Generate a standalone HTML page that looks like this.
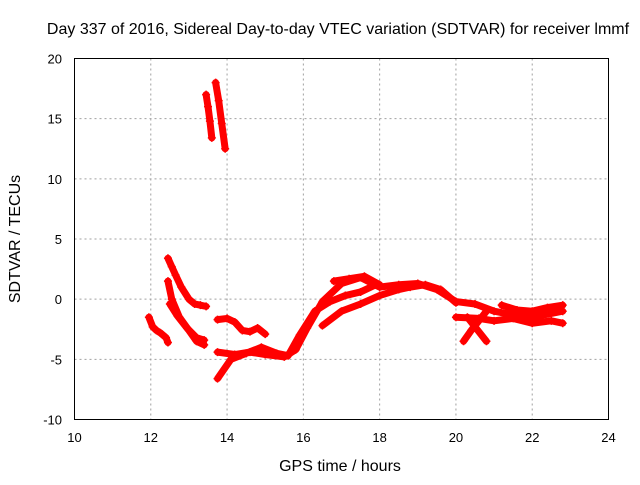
<!DOCTYPE html>
<html><head><meta charset="utf-8"><style>
body{margin:0;background:#fff}
svg text{font-family:"Liberation Sans",sans-serif;font-size:13px;fill:#000}
svg text.big{font-size:16px}
</style></head><body>
<svg id="chart" width="640" height="480" xmlns="http://www.w3.org/2000/svg">
<rect width="640" height="480" fill="#fff"/>
<g id="grid"></g>
<g id="series"></g>
<rect x="74.5" y="58.5" width="534" height="361" fill="none" stroke="#000" stroke-width="1"/>
<g id="ticks"></g>
<text class="big" x="338" y="34" text-anchor="middle">Day 337 of 2016, Sidereal Day-to-day VTEC variation (SDTVAR) for receiver lmmf</text>
<text class="big" x="340" y="471" text-anchor="middle">GPS time / hours</text>
<text class="big" x="20" y="239" text-anchor="middle" transform="rotate(-90 20 239)">SDTVAR / TECUs</text>
</svg>
<script>
const xTicks=[10,12,14,16,18,20,22,24];
const yTicks=[-10,-5,0,5,10,15,20];
const traceA_h=[13.45,13.5,13.55,13.6];
const traceA_v=[17,16,14.8,13.4];
const traceB_h=[13.7,13.78,13.86,13.95];
const traceB_v=[18,16.5,14.6,12.5];
const traceC_h=[12.45,12.55,12.65,12.8,13.0,13.15,13.3,13.45];
const traceC_v=[3.4,2.7,2,1,0,-0.4,-0.5,-0.6];
const traceD_h=[12.45,12.55,12.75,13.0,13.2,13.4];
const traceD_v=[1.5,0,-1.5,-2.6,-3.5,-3.8];
const traceD2_h=[12.5,12.7,12.95,13.2,13.4];
const traceD2_v=[-0.4,-1.4,-2.4,-3.2,-3.4];
const traceE_h=[11.95,12.05,12.15,12.25,12.4,12.45];
const traceE_v=[-1.5,-2.3,-2.6,-2.8,-3.2,-3.6];
const traceF_h=[13.75,14.0,14.2,14.4,14.6,14.8,15.0];
const traceF_v=[-1.7,-1.6,-1.9,-2.6,-2.7,-2.4,-2.9];
const traceG_h=[13.75,14.1,14.5,14.9,15.3,15.6,15.9,16.3,16.7,17.1,17.5,17.9];
const traceG_v=[-6.6,-5,-4.5,-4,-4.5,-4.7,-3,-1,-0.2,0.3,0.6,1.2];
const traceH_h=[13.75,14.2,14.6,15.0,15.5,15.8,16.1,16.5,17.0,17.5,18.0,18.5,19.0,19.5,20.0,20.5,21.0,21.5,22.0,22.8];
const traceH_v=[-4.4,-4.6,-4.4,-4.6,-4.8,-4.2,-2.4,-0.2,1.3,1.8,1.0,1.2,1.3,0.8,-0.2,-0.4,-1.0,-1.3,-1.5,-1.0];
const traceI_h=[16.5,17.0,17.5,18.0,18.5,18.8,19.2,19.6,20.0];
const traceI_v=[-2.2,-1.0,-0.4,0.3,0.8,1.0,1.2,0.8,-0.3];
const traceJ_h=[16.8,17.2,17.6,18.0];
const traceJ_v=[1.5,1.7,1.9,1.2];
const traceK_h=[20.0,20.6,21.0,21.5,22.0,22.5,22.8];
const traceK_v=[-1.5,-1.6,-1.8,-1.6,-2.0,-1.8,-2.0];
const traceL_h=[20.2,20.4,20.6,20.8];
const traceL_v=[-3.5,-2.6,-1.8,-1.0];
const traceM_h=[20.3,20.55,20.8];
const traceM_v=[-1.5,-2.5,-3.5];
const traceN_h=[21.2,21.6,22.0,22.4,22.8];
const traceN_v=[-0.5,-0.9,-1.0,-0.7,-0.5];
const traces=[[traceA_h,traceA_v],[traceB_h,traceB_v],[traceC_h,traceC_v],[traceD_h,traceD_v],[traceD2_h,traceD2_v],[traceE_h,traceE_v],[traceF_h,traceF_v],[traceG_h,traceG_v],[traceH_h,traceH_v],[traceI_h,traceI_v],[traceJ_h,traceJ_v],[traceK_h,traceK_v],[traceL_h,traceL_v],[traceM_h,traceM_v],[traceN_h,traceN_v]];
const X0=74.5,X1=608.5,Y0=419.5,Y1=58.5;
function xs(h){return X0+(h-10)/(24-10)*(X1-X0);}
function ys(v){return Y0-(v+10)/(20+10)*(Y0-Y1);}
const NS="http://www.w3.org/2000/svg";
const grid=document.getElementById('grid'),ticks=document.getElementById('ticks'),ser=document.getElementById('series');
function mk(t,a,p){const e=document.createElementNS(NS,t);for(const k in a)e.setAttribute(k,a[k]);p.appendChild(e);return e;}
xTicks.forEach(t=>{const x=xs(t);
 if(t>10&&t<24){const g=mk('line',{x1:x,x2:x,y1:Y1,y2:Y0,stroke:'#a0a0a0','stroke-dasharray':'2,3'},grid);
 
 }
 const tl=mk('text',{x:x,y:442,'text-anchor':'middle'},ticks);tl.textContent=t;
 
 
});
yTicks.forEach(t=>{const y=ys(t);
 if(t>-10&&t<20){const g=mk('line',{x1:X0,x2:X1,y1:y,y2:y,stroke:'#a0a0a0','stroke-dasharray':'2,3'},grid);
 
 }
 const tl=mk('text',{x:62,y:y+5,'text-anchor':'end'},ticks);tl.textContent=t;
 
 
});
traces.forEach(([H,V])=>{
 const pts=H.map((h,i)=>xs(h)+','+ys(V[i])).join(' ');
 const pl=mk('polyline',{points:pts,fill:'none',stroke:'#f00','stroke-width':7,'stroke-linejoin':'round','stroke-linecap':'round'},ser);
 
 
 H.forEach((h,i)=>{const x=xs(h),y=ys(V[i]);
  const m=mk('path',{d:`M${x-4},${y}h8M${x},${y-4}v8`,stroke:'#f00','stroke-width':1.5},ser);
  
  });
});
</script>
</body></html>
